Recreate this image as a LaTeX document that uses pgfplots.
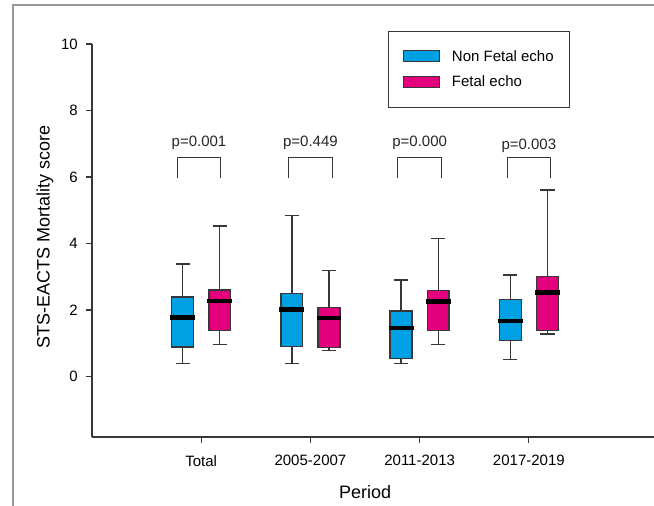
\documentclass[border=0pt]{standalone}
\usepackage{fontspec}
\setmainfont{Liberation Sans}
\usepackage{pgfplots}
\pgfplotsset{compat=1.18}
\usepgfplotslibrary{statistics}
\definecolor{nfblue}{RGB}{0,160,227}
\definecolor{fpink}{RGB}{228,0,124}
\definecolor{edge}{RGB}{55,55,55}
\begin{document}
\begin{tikzpicture}[x=1pt,y=1pt]
\useasboundingbox (0,0) rectangle (654,506);
\draw[black!40, line width=1.2pt] (13,0) -- (13,501) -- (654,501);
\begin{axis}[
  at={(92pt,69pt)}, anchor=south west, scale only axis,
  width=562pt, height=393pt,
  xmin=0, xmax=5.146, ymin=-1.82, ymax=10,
  axis x line=bottom, axis y line=left,
  axis line style={-, edge, line width=1.2pt},
  tick align=outside, major tick length=6pt,
  tick style={edge, line width=1.1pt},
  xtick={1,2,3,4}, xticklabels={Total,2005-2007,2011-2013,2017-2019},
  ytick={0,2,4,6,8,10},
  /pgf/number format/assume math mode=true,
  tick label style={font=\fontsize{15}{18}\selectfont},
  yticklabel style={anchor=east, inner sep=0pt, xshift=-8pt},
  xticklabel style={anchor=north, inner sep=0pt, yshift=-12pt},
  xlabel={Period}, ylabel={STS-EACTS Mortality score},
  label style={font=\fontsize{18}{21}\selectfont},
  x label style={at={(axis description cs:0.486,0)}, anchor=center, yshift=-55pt},
  y label style={at={(axis description cs:-0.0836,0.51)}, anchor=center},
  boxplot/draw direction=y,
  boxplot/every box/.style={draw=edge, line width=1.4pt},
  boxplot/every whisker/.style={draw=edge, line width=1.3pt},
  boxplot/draw/median/.code={\draw[line width=4.5pt, black] (boxplot box cs:\pgfplotsboxplotvalue{median},-0.07) -- (boxplot box cs:\pgfplotsboxplotvalue{median},1.07);},
  legend image code/.code={\draw[#1, line width=1.2pt] (0pt,-5.5pt) rectangle (36pt,5.5pt);},
  legend style={at={(0.527,1.034)}, anchor=north west, draw=edge, line width=1.1pt,
    font=\fontsize{15}{18}\selectfont, inner xsep=14pt, inner ysep=17pt, row sep=9.5pt,
    /tikz/every odd column/.append style={column sep=10pt}},
  legend cell align=left,
  clip=false,
]
\addlegendimage{fill=nfblue, draw=edge}
\addlegendentry{Non Fetal echo}
\addlegendimage{fill=fpink, draw=edge}
\addlegendentry{Fetal echo}

% Non Fetal echo boxes
\addplot[forget plot, fill=nfblue, draw=edge, line width=1.3pt, boxplot prepared={draw position=0.83, lower whisker=0.38, lower quartile=0.89, median=1.77, upper quartile=2.39, upper whisker=3.38, box extend=0.2, whisker extend=0.13}] coordinates {};
\addplot[forget plot, fill=nfblue, draw=edge, line width=1.3pt, boxplot prepared={draw position=1.83, lower whisker=0.39, lower quartile=0.90, median=2.01, upper quartile=2.49, upper whisker=4.84, box extend=0.2, whisker extend=0.13}] coordinates {};
\addplot[forget plot, fill=nfblue, draw=edge, line width=1.3pt, boxplot prepared={draw position=2.83, lower whisker=0.39, lower quartile=0.54, median=1.46, upper quartile=1.97, upper whisker=2.90, box extend=0.2, whisker extend=0.13}] coordinates {};
\addplot[forget plot, fill=nfblue, draw=edge, line width=1.3pt, boxplot prepared={draw position=3.83, lower whisker=0.51, lower quartile=1.09, median=1.67, upper quartile=2.32, upper whisker=3.05, box extend=0.2, whisker extend=0.13}] coordinates {};

% Fetal echo boxes
\addplot[forget plot, fill=fpink, draw=edge, line width=1.3pt, boxplot prepared={draw position=1.17, lower whisker=0.96, lower quartile=1.38, median=2.27, upper quartile=2.60, upper whisker=4.53, box extend=0.2, whisker extend=0.13}] coordinates {};
\addplot[forget plot, fill=fpink, draw=edge, line width=1.3pt, boxplot prepared={draw position=2.17, lower whisker=0.78, lower quartile=0.88, median=1.76, upper quartile=2.07, upper whisker=3.18, box extend=0.2, whisker extend=0.13}] coordinates {};
\addplot[forget plot, fill=fpink, draw=edge, line width=1.3pt, boxplot prepared={draw position=3.17, lower whisker=0.96, lower quartile=1.39, median=2.25, upper quartile=2.59, upper whisker=4.16, box extend=0.2, whisker extend=0.13}] coordinates {};
\addplot[forget plot, fill=fpink, draw=edge, line width=1.3pt, boxplot prepared={draw position=4.17, lower whisker=1.28, lower quartile=1.39, median=2.53, upper quartile=3.00, upper whisker=5.61, box extend=0.2, whisker extend=0.13}] coordinates {};

% significance brackets
\addplot[forget plot, edge, line width=1pt] coordinates {(0.78,5.96) (0.78,6.59) (1.18,6.59) (1.18,5.96)};
\addplot[forget plot, edge, line width=1pt] coordinates {(1.8,5.96) (1.8,6.59) (2.2,6.59) (2.2,5.96)};
\addplot[forget plot, edge, line width=1pt] coordinates {(2.8,5.96) (2.8,6.59) (3.2,6.59) (3.2,5.96)};
\addplot[forget plot, edge, line width=1pt] coordinates {(3.8,5.96) (3.8,6.59) (4.2,6.59) (4.2,5.96)};

\node[anchor=base, font=\fontsize{15}{18}\selectfont, text=black!85] at (axis cs:0.98,6.91) {p=0.001};
\node[anchor=base, font=\fontsize{15}{18}\selectfont, text=black!85] at (axis cs:2,6.91) {p=0.449};
\node[anchor=base, font=\fontsize{15}{18}\selectfont, text=black!85] at (axis cs:3,6.91) {p=0.000};
\node[anchor=base, font=\fontsize{15}{18}\selectfont, text=black!85] at (axis cs:4,6.82) {p=0.003};
\end{axis}
\end{tikzpicture}
\end{document}
